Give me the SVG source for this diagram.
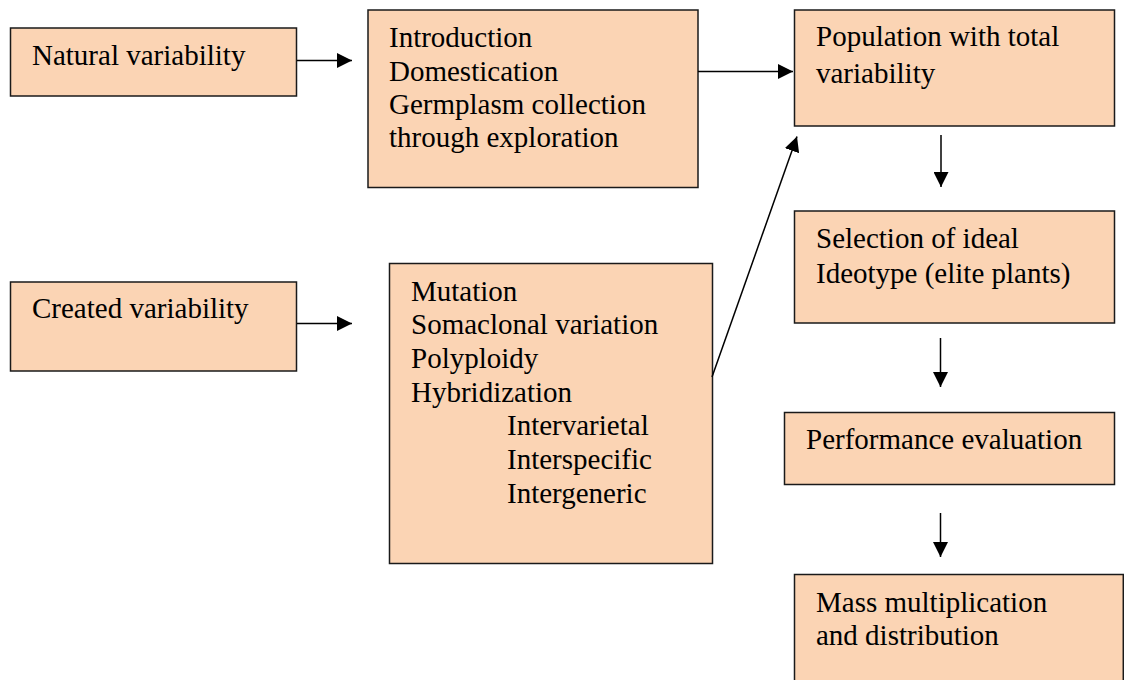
<svg xmlns="http://www.w3.org/2000/svg" width="1124" height="680" viewBox="0 0 1124 680">
<style>
.box{fill:#FBD4B4;stroke:#1a1a1a;stroke-width:1.5}
.t{font-family:"Liberation Serif","Times New Roman",serif;font-size:29px;fill:#000}
.c{stroke:#000;stroke-width:1.5;fill:none}
</style>
<defs>
<marker id="ah" markerWidth="15" markerHeight="15" refX="15" refY="7.5" orient="auto" markerUnits="userSpaceOnUse" viewBox="0 0 15 15">
<path d="M0,0 L15,7.5 L0,15 Z" fill="#000"/>
</marker>
</defs>
<rect width="1124" height="680" fill="#fff"/>
<g id="natural">
<rect class="box" x="10.5" y="28" width="286" height="68"/>
<text class="t" x="32" y="65">Natural variability</text>
</g>
<g id="intro">
<rect class="box" x="368" y="10" width="330" height="177.5"/>
<text class="t" x="389" y="47">Introduction</text>
<text class="t" x="389" y="81">Domestication</text>
<text class="t" x="389" y="114">Germplasm collection</text>
<text class="t" x="389" y="147">through exploration</text>
</g>
<g id="population">
<rect class="box" x="794.5" y="10" width="320" height="116"/>
<text class="t" x="816" y="46">Population with total</text>
<text class="t" x="816" y="83">variability</text>
</g>
<g id="created">
<rect class="box" x="10.5" y="282" width="286" height="89"/>
<text class="t" x="32" y="318">Created variability</text>
</g>
<g id="mutation">
<rect class="box" x="389.5" y="263.5" width="323" height="300"/>
<text class="t" x="411" y="301">Mutation</text>
<text class="t" x="411" y="334">Somaclonal variation</text>
<text class="t" x="411" y="368">Polyploidy</text>
<text class="t" x="411" y="402">Hybridization</text>
<text class="t" x="507" y="435">Intervarietal</text>
<text class="t" x="507" y="469">Interspecific</text>
<text class="t" x="507" y="503">Intergeneric</text>
</g>
<g id="selection">
<rect class="box" x="794.5" y="211" width="320" height="112"/>
<text class="t" x="816" y="248">Selection of ideal</text>
<text class="t" x="816" y="283">Ideotype (elite plants)</text>
</g>
<g id="performance">
<rect class="box" x="784.5" y="412.5" width="330" height="72"/>
<text class="t" x="806" y="449">Performance evaluation</text>
</g>
<g id="mass">
<path class="box" d="M794.5,690 V574.5 H1123.3 V690"/>
<text class="t" x="816" y="612">Mass multiplication</text>
<text class="t" x="816" y="645">and distribution</text>
</g>
<g id="connectors">
<line class="c" x1="297" y1="60.5" x2="352" y2="60.5" marker-end="url(#ah)"/>
<line class="c" x1="698" y1="71.5" x2="793" y2="71.5" marker-end="url(#ah)"/>
<line class="c" x1="297" y1="323.5" x2="352" y2="323.5" marker-end="url(#ah)"/>
<line class="c" x1="712" y1="377" x2="797" y2="136.5" marker-end="url(#ah)"/>
<line class="c" x1="941" y1="135" x2="941" y2="187" marker-end="url(#ah)"/>
<line class="c" x1="940.5" y1="338" x2="940.5" y2="387" marker-end="url(#ah)"/>
<line class="c" x1="940.5" y1="513" x2="940.5" y2="557" marker-end="url(#ah)"/>
</g>
</svg>
